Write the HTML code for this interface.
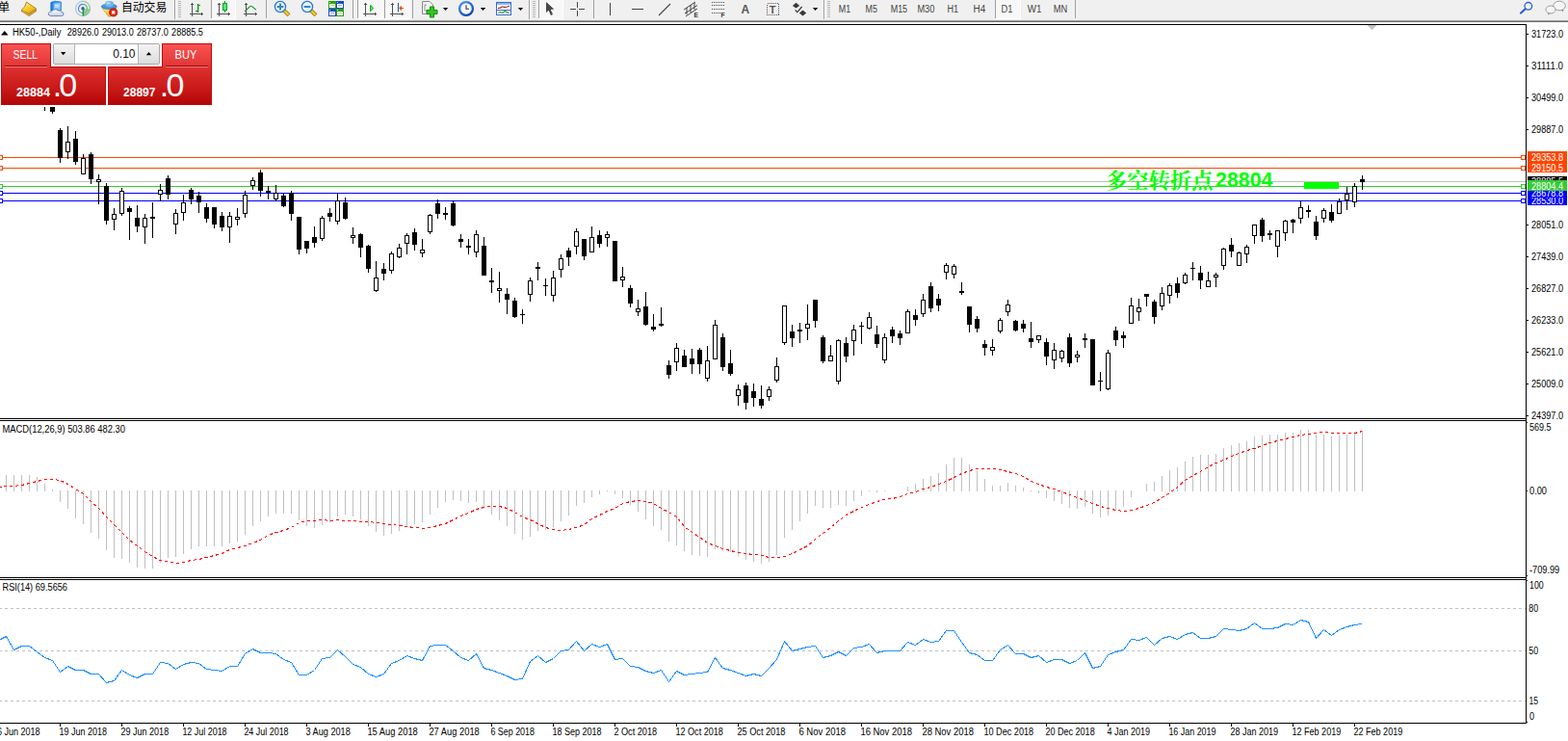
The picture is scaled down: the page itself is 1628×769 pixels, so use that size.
<!DOCTYPE html>
<html><head><meta charset="utf-8"><title>HK50 Daily</title>
<style>html,body{margin:0;padding:0;background:#fff;overflow:hidden}body{width:1628px;height:769px;font-family:"Liberation Sans",sans-serif}svg{display:block}text{font-family:"Liberation Sans",sans-serif}</style>
</head><body>
<svg width="1628" height="769" viewBox="0 0 1628 769">
<rect x="0" y="0" width="1628" height="769" fill="#fff" /><g shape-rendering="crispEdges"><rect x="0" y="163" width="1584" height="1" fill="#ff4500" /><rect x="0" y="174" width="1584" height="1" fill="#ff4500" /><rect x="0" y="188" width="1584" height="1" fill="#c0c0c0" /><rect x="0" y="193" width="1584" height="1" fill="#32cd32" /><rect x="0" y="200" width="1584" height="1" fill="#0000ff" /><rect x="0" y="208" width="1584" height="1" fill="#0000ff" /><rect x="1354" y="189" width="36" height="7" fill="#00ff00" /></g><text x="1148" y="194.5" font-size="21.6" fill="#00ff00" text-anchor="start" font-weight="bold" style="font-family:'Liberation Serif','Noto Serif CJK SC',serif" textLength="111.5" lengthAdjust="spacingAndGlyphs">多空转折点</text><text x="1262" y="194" font-size="21.33" fill="#00ff00" text-anchor="start" font-weight="bold" textLength="59.5" lengthAdjust="spacingAndGlyphs" >28804</text><g shape-rendering="crispEdges"><rect x="46" y="100" width="1" height="15" fill="#000" /><rect x="44" y="100" width="5" height="5" fill="#000" /><rect x="54" y="95" width="1" height="23" fill="#000" /><rect x="52" y="98" width="5" height="18" fill="#000" /><rect x="62" y="133" width="1" height="36" fill="#000" /><rect x="60" y="135" width="5" height="29" fill="#000" /><rect x="70" y="131" width="1" height="34" fill="#000" /><rect x="68" y="147" width="5" height="11" fill="#000" /><rect x="69" y="148" width="3" height="9" fill="#fff" /><rect x="78" y="136" width="1" height="35" fill="#000" /><rect x="76" y="144" width="5" height="24" fill="#000" /><rect x="86" y="160" width="1" height="21" fill="#000" /><rect x="84" y="164" width="5" height="17" fill="#000" /><rect x="85" y="165" width="3" height="15" fill="#fff" /><rect x="94" y="158" width="1" height="33" fill="#000" /><rect x="92" y="160" width="5" height="26" fill="#000" /><rect x="102" y="181" width="1" height="31" fill="#000" /><rect x="100" y="186" width="5" height="3" fill="#000" /><rect x="101" y="187" width="3" height="1" fill="#fff" /><rect x="110" y="190" width="1" height="43" fill="#000" /><rect x="108" y="193" width="5" height="36" fill="#000" /><rect x="118" y="216" width="1" height="23" fill="#000" /><rect x="116" y="222" width="5" height="6" fill="#000" /><rect x="117" y="223" width="3" height="4" fill="#fff" /><rect x="126" y="195" width="1" height="29" fill="#000" /><rect x="124" y="198" width="5" height="24" fill="#000" /><rect x="125" y="199" width="3" height="22" fill="#fff" /><rect x="134" y="214" width="1" height="35" fill="#000" /><rect x="132" y="216" width="5" height="4" fill="#000" /><rect x="142" y="213" width="1" height="28" fill="#000" /><rect x="140" y="226" width="5" height="9" fill="#000" /><rect x="150" y="222" width="1" height="31" fill="#000" /><rect x="148" y="226" width="5" height="10" fill="#000" /><rect x="149" y="227" width="3" height="8" fill="#fff" /><rect x="158" y="210" width="1" height="37" fill="#000" /><rect x="156" y="225" width="5" height="2" fill="#000" /><rect x="166" y="191" width="1" height="18" fill="#000" /><rect x="164" y="197" width="5" height="5" fill="#000" /><rect x="165" y="198" width="3" height="3" fill="#fff" /><rect x="174" y="182" width="1" height="25" fill="#000" /><rect x="172" y="185" width="5" height="17" fill="#000" /><rect x="182" y="217" width="1" height="26" fill="#000" /><rect x="180" y="221" width="5" height="12" fill="#000" /><rect x="181" y="222" width="3" height="10" fill="#fff" /><rect x="190" y="202" width="1" height="27" fill="#000" /><rect x="188" y="210" width="5" height="11" fill="#000" /><rect x="189" y="211" width="3" height="9" fill="#fff" /><rect x="198" y="195" width="1" height="17" fill="#000" /><rect x="196" y="197" width="5" height="10" fill="#000" /><rect x="206" y="199" width="1" height="22" fill="#000" /><rect x="204" y="203" width="5" height="7" fill="#000" /><rect x="214" y="211" width="1" height="20" fill="#000" /><rect x="212" y="215" width="5" height="12" fill="#000" /><rect x="222" y="215" width="1" height="22" fill="#000" /><rect x="220" y="215" width="5" height="18" fill="#000" /><rect x="230" y="220" width="1" height="20" fill="#000" /><rect x="228" y="224" width="5" height="12" fill="#000" /><rect x="238" y="220" width="1" height="32" fill="#000" /><rect x="236" y="224" width="5" height="12" fill="#000" /><rect x="237" y="225" width="3" height="10" fill="#fff" /><rect x="246" y="216" width="1" height="18" fill="#000" /><rect x="244" y="225" width="5" height="3" fill="#000" /><rect x="245" y="226" width="3" height="1" fill="#fff" /><rect x="254" y="198" width="1" height="28" fill="#000" /><rect x="252" y="202" width="5" height="20" fill="#000" /><rect x="253" y="203" width="3" height="18" fill="#fff" /><rect x="262" y="184" width="1" height="13" fill="#000" /><rect x="260" y="187" width="5" height="6" fill="#000" /><rect x="261" y="188" width="3" height="4" fill="#fff" /><rect x="270" y="176" width="1" height="28" fill="#000" /><rect x="268" y="179" width="5" height="19" fill="#000" /><rect x="278" y="193" width="1" height="14" fill="#000" /><rect x="276" y="198" width="5" height="2" fill="#000" /><rect x="286" y="192" width="1" height="17" fill="#000" /><rect x="284" y="200" width="5" height="7" fill="#000" /><rect x="285" y="201" width="3" height="5" fill="#fff" /><rect x="294" y="201" width="1" height="14" fill="#000" /><rect x="292" y="203" width="5" height="11" fill="#000" /><rect x="302" y="198" width="1" height="31" fill="#000" /><rect x="300" y="200" width="5" height="22" fill="#000" /><rect x="310" y="225" width="1" height="39" fill="#000" /><rect x="308" y="225" width="5" height="34" fill="#000" /><rect x="318" y="250" width="1" height="13" fill="#000" /><rect x="316" y="250" width="5" height="8" fill="#000" /><rect x="326" y="235" width="1" height="22" fill="#000" /><rect x="324" y="246" width="5" height="6" fill="#000" /><rect x="334" y="224" width="1" height="26" fill="#000" /><rect x="332" y="226" width="5" height="22" fill="#000" /><rect x="333" y="227" width="3" height="20" fill="#fff" /><rect x="342" y="216" width="1" height="14" fill="#000" /><rect x="340" y="221" width="5" height="4" fill="#000" /><rect x="350" y="201" width="1" height="32" fill="#000" /><rect x="348" y="208" width="5" height="22" fill="#000" /><rect x="349" y="209" width="3" height="20" fill="#fff" /><rect x="358" y="205" width="1" height="23" fill="#000" /><rect x="356" y="210" width="5" height="17" fill="#000" /><rect x="366" y="236" width="1" height="17" fill="#000" /><rect x="364" y="244" width="5" height="3" fill="#000" /><rect x="365" y="245" width="3" height="1" fill="#fff" /><rect x="374" y="242" width="1" height="25" fill="#000" /><rect x="372" y="243" width="5" height="14" fill="#000" /><rect x="382" y="254" width="1" height="29" fill="#000" /><rect x="380" y="255" width="5" height="24" fill="#000" /><rect x="390" y="271" width="1" height="32" fill="#000" /><rect x="388" y="288" width="5" height="14" fill="#000" /><rect x="389" y="289" width="3" height="12" fill="#fff" /><rect x="398" y="273" width="1" height="18" fill="#000" /><rect x="396" y="279" width="5" height="5" fill="#000" /><rect x="406" y="261" width="1" height="23" fill="#000" /><rect x="404" y="263" width="5" height="18" fill="#000" /><rect x="405" y="264" width="3" height="16" fill="#fff" /><rect x="414" y="253" width="1" height="15" fill="#000" /><rect x="412" y="257" width="5" height="10" fill="#000" /><rect x="413" y="258" width="3" height="8" fill="#fff" /><rect x="422" y="242" width="1" height="22" fill="#000" /><rect x="420" y="244" width="5" height="9" fill="#000" /><rect x="421" y="245" width="3" height="7" fill="#fff" /><rect x="430" y="237" width="1" height="23" fill="#000" /><rect x="428" y="241" width="5" height="13" fill="#000" /><rect x="438" y="248" width="1" height="19" fill="#000" /><rect x="436" y="259" width="5" height="4" fill="#000" /><rect x="437" y="260" width="3" height="2" fill="#fff" /><rect x="446" y="222" width="1" height="21" fill="#000" /><rect x="444" y="223" width="5" height="18" fill="#000" /><rect x="445" y="224" width="3" height="16" fill="#fff" /><rect x="454" y="207" width="1" height="20" fill="#000" /><rect x="452" y="211" width="5" height="11" fill="#000" /><rect x="462" y="215" width="1" height="13" fill="#000" /><rect x="460" y="221" width="5" height="2" fill="#000" /><rect x="470" y="208" width="1" height="27" fill="#000" /><rect x="468" y="211" width="5" height="23" fill="#000" /><rect x="478" y="243" width="1" height="14" fill="#000" /><rect x="476" y="248" width="5" height="3" fill="#000" /><rect x="486" y="248" width="1" height="16" fill="#000" /><rect x="484" y="255" width="5" height="2" fill="#000" /><rect x="494" y="239" width="1" height="28" fill="#000" /><rect x="492" y="243" width="5" height="19" fill="#000" /><rect x="493" y="244" width="3" height="17" fill="#fff" /><rect x="502" y="246" width="1" height="40" fill="#000" /><rect x="500" y="255" width="5" height="31" fill="#000" /><rect x="510" y="278" width="1" height="26" fill="#000" /><rect x="508" y="291" width="5" height="2" fill="#000" /><rect x="518" y="282" width="1" height="32" fill="#000" /><rect x="516" y="299" width="5" height="3" fill="#000" /><rect x="517" y="300" width="3" height="1" fill="#fff" /><rect x="526" y="299" width="1" height="27" fill="#000" /><rect x="524" y="305" width="5" height="6" fill="#000" /><rect x="534" y="309" width="1" height="21" fill="#000" /><rect x="532" y="312" width="5" height="17" fill="#000" /><rect x="542" y="321" width="1" height="15" fill="#000" /><rect x="540" y="326" width="5" height="1" fill="#000" /><rect x="550" y="288" width="1" height="25" fill="#000" /><rect x="548" y="291" width="5" height="15" fill="#000" /><rect x="549" y="292" width="3" height="13" fill="#fff" /><rect x="558" y="272" width="1" height="19" fill="#000" /><rect x="556" y="277" width="5" height="2" fill="#000" /><rect x="566" y="289" width="1" height="18" fill="#000" /><rect x="564" y="296" width="5" height="1" fill="#000" /><rect x="574" y="281" width="1" height="32" fill="#000" /><rect x="572" y="288" width="5" height="19" fill="#000" /><rect x="573" y="289" width="3" height="17" fill="#fff" /><rect x="582" y="264" width="1" height="24" fill="#000" /><rect x="580" y="268" width="5" height="12" fill="#000" /><rect x="581" y="269" width="3" height="10" fill="#fff" /><rect x="590" y="257" width="1" height="19" fill="#000" /><rect x="588" y="260" width="5" height="7" fill="#000" /><rect x="598" y="237" width="1" height="27" fill="#000" /><rect x="596" y="240" width="5" height="16" fill="#000" /><rect x="597" y="241" width="3" height="14" fill="#fff" /><rect x="606" y="248" width="1" height="22" fill="#000" /><rect x="604" y="248" width="5" height="18" fill="#000" /><rect x="614" y="235" width="1" height="27" fill="#000" /><rect x="612" y="246" width="5" height="16" fill="#000" /><rect x="613" y="247" width="3" height="14" fill="#fff" /><rect x="622" y="239" width="1" height="18" fill="#000" /><rect x="620" y="244" width="5" height="9" fill="#000" /><rect x="630" y="240" width="1" height="16" fill="#000" /><rect x="628" y="243" width="5" height="4" fill="#000" /><rect x="629" y="244" width="3" height="2" fill="#fff" /><rect x="638" y="250" width="1" height="42" fill="#000" /><rect x="636" y="250" width="5" height="42" fill="#000" /><rect x="646" y="277" width="1" height="21" fill="#000" /><rect x="644" y="287" width="5" height="4" fill="#000" /><rect x="645" y="288" width="3" height="2" fill="#fff" /><rect x="654" y="296" width="1" height="23" fill="#000" /><rect x="652" y="299" width="5" height="16" fill="#000" /><rect x="662" y="311" width="1" height="17" fill="#000" /><rect x="660" y="320" width="5" height="4" fill="#000" /><rect x="661" y="321" width="3" height="2" fill="#fff" /><rect x="670" y="303" width="1" height="35" fill="#000" /><rect x="668" y="318" width="5" height="19" fill="#000" /><rect x="678" y="326" width="1" height="18" fill="#000" /><rect x="676" y="339" width="5" height="3" fill="#000" /><rect x="686" y="319" width="1" height="20" fill="#000" /><rect x="684" y="336" width="5" height="2" fill="#000" /><rect x="694" y="374" width="1" height="19" fill="#000" /><rect x="692" y="379" width="5" height="10" fill="#000" /><rect x="702" y="356" width="1" height="29" fill="#000" /><rect x="700" y="361" width="5" height="15" fill="#000" /><rect x="701" y="362" width="3" height="13" fill="#fff" /><rect x="710" y="363" width="1" height="18" fill="#000" /><rect x="708" y="369" width="5" height="12" fill="#000" /><rect x="718" y="362" width="1" height="26" fill="#000" /><rect x="716" y="372" width="5" height="6" fill="#000" /><rect x="726" y="361" width="1" height="27" fill="#000" /><rect x="724" y="363" width="5" height="15" fill="#000" /><rect x="734" y="359" width="1" height="37" fill="#000" /><rect x="732" y="374" width="5" height="19" fill="#000" /><rect x="733" y="375" width="3" height="17" fill="#fff" /><rect x="742" y="332" width="1" height="41" fill="#000" /><rect x="740" y="337" width="5" height="36" fill="#000" /><rect x="741" y="338" width="3" height="34" fill="#fff" /><rect x="750" y="346" width="1" height="39" fill="#000" /><rect x="748" y="350" width="5" height="31" fill="#000" /><rect x="758" y="363" width="1" height="27" fill="#000" /><rect x="756" y="377" width="5" height="11" fill="#000" /><rect x="766" y="399" width="1" height="22" fill="#000" /><rect x="764" y="404" width="5" height="7" fill="#000" /><rect x="765" y="405" width="3" height="5" fill="#fff" /><rect x="774" y="397" width="1" height="28" fill="#000" /><rect x="772" y="400" width="5" height="18" fill="#000" /><rect x="782" y="398" width="1" height="24" fill="#000" /><rect x="780" y="406" width="5" height="7" fill="#000" /><rect x="790" y="400" width="1" height="24" fill="#000" /><rect x="788" y="414" width="5" height="7" fill="#000" /><rect x="798" y="401" width="1" height="15" fill="#000" /><rect x="796" y="404" width="5" height="8" fill="#000" /><rect x="797" y="405" width="3" height="6" fill="#fff" /><rect x="806" y="371" width="1" height="26" fill="#000" /><rect x="804" y="380" width="5" height="15" fill="#000" /><rect x="805" y="381" width="3" height="13" fill="#fff" /><rect x="814" y="317" width="1" height="41" fill="#000" /><rect x="812" y="317" width="5" height="39" fill="#000" /><rect x="813" y="318" width="3" height="37" fill="#fff" /><rect x="822" y="337" width="1" height="23" fill="#000" /><rect x="820" y="344" width="5" height="7" fill="#000" /><rect x="830" y="335" width="1" height="21" fill="#000" /><rect x="828" y="342" width="5" height="2" fill="#000" /><rect x="838" y="316" width="1" height="37" fill="#000" /><rect x="836" y="336" width="5" height="5" fill="#000" /><rect x="837" y="337" width="3" height="3" fill="#fff" /><rect x="846" y="311" width="1" height="29" fill="#000" /><rect x="844" y="311" width="5" height="22" fill="#000" /><rect x="854" y="348" width="1" height="29" fill="#000" /><rect x="852" y="350" width="5" height="25" fill="#000" /><rect x="862" y="358" width="1" height="17" fill="#000" /><rect x="860" y="369" width="5" height="6" fill="#000" /><rect x="861" y="370" width="3" height="4" fill="#fff" /><rect x="870" y="352" width="1" height="47" fill="#000" /><rect x="868" y="353" width="5" height="43" fill="#000" /><rect x="869" y="354" width="3" height="41" fill="#fff" /><rect x="878" y="350" width="1" height="26" fill="#000" /><rect x="876" y="356" width="5" height="14" fill="#000" /><rect x="886" y="337" width="1" height="32" fill="#000" /><rect x="884" y="342" width="5" height="12" fill="#000" /><rect x="885" y="343" width="3" height="10" fill="#fff" /><rect x="894" y="334" width="1" height="23" fill="#000" /><rect x="892" y="338" width="5" height="1" fill="#000" /><rect x="902" y="324" width="1" height="18" fill="#000" /><rect x="900" y="329" width="5" height="12" fill="#000" /><rect x="901" y="330" width="3" height="10" fill="#fff" /><rect x="910" y="338" width="1" height="23" fill="#000" /><rect x="908" y="347" width="5" height="10" fill="#000" /><rect x="918" y="346" width="1" height="31" fill="#000" /><rect x="916" y="350" width="5" height="24" fill="#000" /><rect x="917" y="351" width="3" height="22" fill="#fff" /><rect x="926" y="339" width="1" height="17" fill="#000" /><rect x="924" y="342" width="5" height="7" fill="#000" /><rect x="934" y="343" width="1" height="15" fill="#000" /><rect x="932" y="346" width="5" height="5" fill="#000" /><rect x="942" y="321" width="1" height="25" fill="#000" /><rect x="940" y="323" width="5" height="23" fill="#000" /><rect x="941" y="324" width="3" height="21" fill="#fff" /><rect x="950" y="321" width="1" height="17" fill="#000" /><rect x="948" y="327" width="5" height="5" fill="#000" /><rect x="958" y="305" width="1" height="24" fill="#000" /><rect x="956" y="311" width="5" height="15" fill="#000" /><rect x="957" y="312" width="3" height="13" fill="#fff" /><rect x="966" y="293" width="1" height="31" fill="#000" /><rect x="964" y="297" width="5" height="23" fill="#000" /><rect x="974" y="305" width="1" height="18" fill="#000" /><rect x="972" y="310" width="5" height="7" fill="#000" /><rect x="982" y="273" width="1" height="17" fill="#000" /><rect x="980" y="275" width="5" height="8" fill="#000" /><rect x="981" y="276" width="3" height="6" fill="#fff" /><rect x="990" y="274" width="1" height="15" fill="#000" /><rect x="988" y="276" width="5" height="9" fill="#000" /><rect x="989" y="277" width="3" height="7" fill="#fff" /><rect x="998" y="293" width="1" height="13" fill="#000" /><rect x="996" y="302" width="5" height="2" fill="#000" /><rect x="1006" y="318" width="1" height="27" fill="#000" /><rect x="1004" y="318" width="5" height="19" fill="#000" /><rect x="1014" y="328" width="1" height="17" fill="#000" /><rect x="1012" y="331" width="5" height="10" fill="#000" /><rect x="1022" y="353" width="1" height="16" fill="#000" /><rect x="1020" y="357" width="5" height="4" fill="#000" /><rect x="1030" y="352" width="1" height="17" fill="#000" /><rect x="1028" y="360" width="5" height="4" fill="#000" /><rect x="1029" y="361" width="3" height="2" fill="#fff" /><rect x="1038" y="330" width="1" height="16" fill="#000" /><rect x="1036" y="332" width="5" height="12" fill="#000" /><rect x="1037" y="333" width="3" height="10" fill="#fff" /><rect x="1046" y="311" width="1" height="17" fill="#000" /><rect x="1044" y="316" width="5" height="8" fill="#000" /><rect x="1045" y="317" width="3" height="6" fill="#fff" /><rect x="1054" y="332" width="1" height="12" fill="#000" /><rect x="1052" y="333" width="5" height="10" fill="#000" /><rect x="1062" y="332" width="1" height="13" fill="#000" /><rect x="1060" y="336" width="5" height="5" fill="#000" /><rect x="1070" y="334" width="1" height="27" fill="#000" /><rect x="1068" y="351" width="5" height="4" fill="#000" /><rect x="1078" y="348" width="1" height="8" fill="#000" /><rect x="1076" y="348" width="5" height="5" fill="#000" /><rect x="1077" y="349" width="3" height="3" fill="#fff" /><rect x="1086" y="351" width="1" height="28" fill="#000" /><rect x="1084" y="355" width="5" height="15" fill="#000" /><rect x="1094" y="356" width="1" height="27" fill="#000" /><rect x="1092" y="363" width="5" height="11" fill="#000" /><rect x="1093" y="364" width="3" height="9" fill="#fff" /><rect x="1102" y="363" width="1" height="13" fill="#000" /><rect x="1100" y="364" width="5" height="8" fill="#000" /><rect x="1101" y="365" width="3" height="6" fill="#fff" /><rect x="1110" y="346" width="1" height="35" fill="#000" /><rect x="1108" y="350" width="5" height="27" fill="#000" /><rect x="1118" y="364" width="1" height="12" fill="#000" /><rect x="1116" y="368" width="5" height="3" fill="#000" /><rect x="1117" y="369" width="3" height="1" fill="#fff" /><rect x="1126" y="346" width="1" height="15" fill="#000" /><rect x="1124" y="351" width="5" height="2" fill="#000" /><rect x="1134" y="352" width="1" height="48" fill="#000" /><rect x="1132" y="352" width="5" height="48" fill="#000" /><rect x="1142" y="386" width="1" height="20" fill="#000" /><rect x="1140" y="395" width="5" height="1" fill="#000" /><rect x="1150" y="363" width="1" height="42" fill="#000" /><rect x="1148" y="366" width="5" height="38" fill="#000" /><rect x="1149" y="367" width="3" height="36" fill="#fff" /><rect x="1158" y="339" width="1" height="20" fill="#000" /><rect x="1156" y="343" width="5" height="10" fill="#000" /><rect x="1166" y="344" width="1" height="17" fill="#000" /><rect x="1164" y="348" width="5" height="3" fill="#000" /><rect x="1174" y="309" width="1" height="27" fill="#000" /><rect x="1172" y="317" width="5" height="19" fill="#000" /><rect x="1173" y="318" width="3" height="17" fill="#fff" /><rect x="1182" y="310" width="1" height="23" fill="#000" /><rect x="1180" y="319" width="5" height="5" fill="#000" /><rect x="1181" y="320" width="3" height="3" fill="#fff" /><rect x="1190" y="305" width="1" height="13" fill="#000" /><rect x="1188" y="305" width="5" height="3" fill="#000" /><rect x="1198" y="311" width="1" height="25" fill="#000" /><rect x="1196" y="313" width="5" height="16" fill="#000" /><rect x="1206" y="298" width="1" height="24" fill="#000" /><rect x="1204" y="304" width="5" height="14" fill="#000" /><rect x="1205" y="305" width="3" height="12" fill="#fff" /><rect x="1214" y="294" width="1" height="21" fill="#000" /><rect x="1212" y="296" width="5" height="11" fill="#000" /><rect x="1213" y="297" width="3" height="9" fill="#fff" /><rect x="1222" y="288" width="1" height="21" fill="#000" /><rect x="1220" y="294" width="5" height="10" fill="#000" /><rect x="1230" y="283" width="1" height="12" fill="#000" /><rect x="1228" y="285" width="5" height="9" fill="#000" /><rect x="1229" y="286" width="3" height="7" fill="#fff" /><rect x="1238" y="272" width="1" height="19" fill="#000" /><rect x="1236" y="278" width="5" height="1" fill="#000" /><rect x="1246" y="276" width="1" height="24" fill="#000" /><rect x="1244" y="283" width="5" height="8" fill="#000" /><rect x="1254" y="282" width="1" height="16" fill="#000" /><rect x="1252" y="291" width="5" height="7" fill="#000" /><rect x="1253" y="292" width="3" height="5" fill="#fff" /><rect x="1262" y="283" width="1" height="15" fill="#000" /><rect x="1260" y="285" width="5" height="3" fill="#000" /><rect x="1261" y="286" width="3" height="1" fill="#fff" /><rect x="1270" y="257" width="1" height="23" fill="#000" /><rect x="1268" y="258" width="5" height="18" fill="#000" /><rect x="1269" y="259" width="3" height="16" fill="#fff" /><rect x="1278" y="247" width="1" height="20" fill="#000" /><rect x="1276" y="254" width="5" height="7" fill="#000" /><rect x="1286" y="261" width="1" height="15" fill="#000" /><rect x="1284" y="262" width="5" height="14" fill="#000" /><rect x="1285" y="263" width="3" height="12" fill="#fff" /><rect x="1294" y="254" width="1" height="19" fill="#000" /><rect x="1292" y="256" width="5" height="8" fill="#000" /><rect x="1293" y="257" width="3" height="6" fill="#fff" /><rect x="1302" y="233" width="1" height="20" fill="#000" /><rect x="1300" y="233" width="5" height="12" fill="#000" /><rect x="1301" y="234" width="3" height="10" fill="#fff" /><rect x="1310" y="226" width="1" height="25" fill="#000" /><rect x="1308" y="228" width="5" height="17" fill="#000" /><rect x="1318" y="239" width="1" height="10" fill="#000" /><rect x="1316" y="242" width="5" height="2" fill="#000" /><rect x="1326" y="239" width="1" height="28" fill="#000" /><rect x="1324" y="239" width="5" height="17" fill="#000" /><rect x="1325" y="240" width="3" height="15" fill="#fff" /><rect x="1334" y="228" width="1" height="22" fill="#000" /><rect x="1332" y="229" width="5" height="13" fill="#000" /><rect x="1333" y="230" width="3" height="11" fill="#fff" /><rect x="1342" y="227" width="1" height="15" fill="#000" /><rect x="1340" y="228" width="5" height="3" fill="#000" /><rect x="1350" y="208" width="1" height="24" fill="#000" /><rect x="1348" y="215" width="5" height="12" fill="#000" /><rect x="1349" y="216" width="3" height="10" fill="#fff" /><rect x="1358" y="213" width="1" height="13" fill="#000" /><rect x="1356" y="218" width="5" height="2" fill="#000" /><rect x="1366" y="224" width="1" height="25" fill="#000" /><rect x="1364" y="230" width="5" height="15" fill="#000" /><rect x="1374" y="216" width="1" height="15" fill="#000" /><rect x="1372" y="218" width="5" height="9" fill="#000" /><rect x="1373" y="219" width="3" height="7" fill="#fff" /><rect x="1382" y="212" width="1" height="19" fill="#000" /><rect x="1380" y="220" width="5" height="9" fill="#000" /><rect x="1390" y="206" width="1" height="16" fill="#000" /><rect x="1388" y="209" width="5" height="13" fill="#000" /><rect x="1389" y="210" width="3" height="11" fill="#fff" /><rect x="1398" y="194" width="1" height="24" fill="#000" /><rect x="1396" y="201" width="5" height="7" fill="#000" /><rect x="1397" y="202" width="3" height="5" fill="#fff" /><rect x="1406" y="190" width="1" height="25" fill="#000" /><rect x="1404" y="193" width="5" height="17" fill="#000" /><rect x="1405" y="194" width="3" height="15" fill="#fff" /><rect x="1414" y="182" width="1" height="15" fill="#000" /><rect x="1412" y="186" width="5" height="3" fill="#000" /><rect x="1579" y="161" width="5" height="5" fill="#ff4500" /><rect x="1580" y="162" width="3" height="3" fill="#fff" /><rect x="-2" y="161" width="5" height="5" fill="#ff4500" /><rect x="-1" y="162" width="3" height="3" fill="#fff" /><rect x="1579" y="172" width="5" height="5" fill="#ff4500" /><rect x="1580" y="173" width="3" height="3" fill="#fff" /><rect x="-2" y="172" width="5" height="5" fill="#ff4500" /><rect x="-1" y="173" width="3" height="3" fill="#fff" /><rect x="1579" y="191" width="5" height="5" fill="#32cd32" /><rect x="1580" y="192" width="3" height="3" fill="#fff" /><rect x="-2" y="191" width="5" height="5" fill="#32cd32" /><rect x="-1" y="192" width="3" height="3" fill="#fff" /><rect x="1579" y="198" width="5" height="5" fill="#0000ff" /><rect x="1580" y="199" width="3" height="3" fill="#fff" /><rect x="-2" y="198" width="5" height="5" fill="#0000ff" /><rect x="-1" y="199" width="3" height="3" fill="#fff" /><rect x="1579" y="206" width="5" height="5" fill="#0000ff" /><rect x="1580" y="207" width="3" height="3" fill="#fff" /><rect x="-2" y="206" width="5" height="5" fill="#0000ff" /><rect x="-1" y="207" width="3" height="3" fill="#fff" /><rect x="6" y="493" width="1" height="17" fill="#c0c0c0" /><rect x="14" y="493" width="1" height="17" fill="#c0c0c0" /><rect x="22" y="493" width="1" height="17" fill="#c0c0c0" /><rect x="30" y="493" width="1" height="17" fill="#c0c0c0" /><rect x="38" y="495" width="1" height="15" fill="#c0c0c0" /><rect x="46" y="502" width="1" height="8" fill="#c0c0c0" /><rect x="54" y="508" width="1" height="2" fill="#c0c0c0" /><rect x="62" y="509" width="1" height="12" fill="#c0c0c0" /><rect x="70" y="509" width="1" height="19" fill="#c0c0c0" /><rect x="78" y="509" width="1" height="29" fill="#c0c0c0" /><rect x="86" y="509" width="1" height="35" fill="#c0c0c0" /><rect x="94" y="509" width="1" height="44" fill="#c0c0c0" /><rect x="102" y="509" width="1" height="50" fill="#c0c0c0" /><rect x="110" y="509" width="1" height="62" fill="#c0c0c0" /><rect x="118" y="509" width="1" height="70" fill="#c0c0c0" /><rect x="126" y="509" width="1" height="71" fill="#c0c0c0" /><rect x="134" y="509" width="1" height="75" fill="#c0c0c0" /><rect x="142" y="509" width="1" height="80" fill="#c0c0c0" /><rect x="150" y="509" width="1" height="81" fill="#c0c0c0" /><rect x="158" y="509" width="1" height="81" fill="#c0c0c0" /><rect x="166" y="509" width="1" height="75" fill="#c0c0c0" /><rect x="174" y="509" width="1" height="70" fill="#c0c0c0" /><rect x="182" y="509" width="1" height="69" fill="#c0c0c0" /><rect x="190" y="509" width="1" height="66" fill="#c0c0c0" /><rect x="198" y="509" width="1" height="61" fill="#c0c0c0" /><rect x="206" y="509" width="1" height="58" fill="#c0c0c0" /><rect x="214" y="509" width="1" height="58" fill="#c0c0c0" /><rect x="222" y="509" width="1" height="58" fill="#c0c0c0" /><rect x="230" y="509" width="1" height="58" fill="#c0c0c0" /><rect x="238" y="509" width="1" height="55" fill="#c0c0c0" /><rect x="246" y="509" width="1" height="53" fill="#c0c0c0" /><rect x="254" y="509" width="1" height="46" fill="#c0c0c0" /><rect x="262" y="509" width="1" height="37" fill="#c0c0c0" /><rect x="270" y="509" width="1" height="32" fill="#c0c0c0" /><rect x="278" y="509" width="1" height="27" fill="#c0c0c0" /><rect x="286" y="509" width="1" height="24" fill="#c0c0c0" /><rect x="294" y="509" width="1" height="24" fill="#c0c0c0" /><rect x="302" y="509" width="1" height="24" fill="#c0c0c0" /><rect x="310" y="509" width="1" height="31" fill="#c0c0c0" /><rect x="318" y="509" width="1" height="37" fill="#c0c0c0" /><rect x="326" y="509" width="1" height="39" fill="#c0c0c0" /><rect x="334" y="509" width="1" height="36" fill="#c0c0c0" /><rect x="342" y="509" width="1" height="33" fill="#c0c0c0" /><rect x="350" y="509" width="1" height="27" fill="#c0c0c0" /><rect x="358" y="509" width="1" height="25" fill="#c0c0c0" /><rect x="366" y="509" width="1" height="27" fill="#c0c0c0" /><rect x="374" y="509" width="1" height="30" fill="#c0c0c0" /><rect x="382" y="509" width="1" height="37" fill="#c0c0c0" /><rect x="390" y="509" width="1" height="43" fill="#c0c0c0" /><rect x="398" y="509" width="1" height="47" fill="#c0c0c0" /><rect x="406" y="509" width="1" height="45" fill="#c0c0c0" /><rect x="414" y="509" width="1" height="42" fill="#c0c0c0" /><rect x="422" y="509" width="1" height="37" fill="#c0c0c0" /><rect x="430" y="509" width="1" height="35" fill="#c0c0c0" /><rect x="438" y="509" width="1" height="33" fill="#c0c0c0" /><rect x="446" y="509" width="1" height="25" fill="#c0c0c0" /><rect x="454" y="509" width="1" height="18" fill="#c0c0c0" /><rect x="462" y="509" width="1" height="12" fill="#c0c0c0" /><rect x="470" y="509" width="1" height="10" fill="#c0c0c0" /><rect x="478" y="509" width="1" height="11" fill="#c0c0c0" /><rect x="486" y="509" width="1" height="13" fill="#c0c0c0" /><rect x="494" y="509" width="1" height="12" fill="#c0c0c0" /><rect x="502" y="509" width="1" height="17" fill="#c0c0c0" /><rect x="510" y="509" width="1" height="25" fill="#c0c0c0" /><rect x="518" y="509" width="1" height="31" fill="#c0c0c0" /><rect x="526" y="509" width="1" height="37" fill="#c0c0c0" /><rect x="534" y="509" width="1" height="45" fill="#c0c0c0" /><rect x="542" y="509" width="1" height="51" fill="#c0c0c0" /><rect x="550" y="509" width="1" height="48" fill="#c0c0c0" /><rect x="558" y="509" width="1" height="42" fill="#c0c0c0" /><rect x="566" y="509" width="1" height="41" fill="#c0c0c0" /><rect x="574" y="509" width="1" height="38" fill="#c0c0c0" /><rect x="582" y="509" width="1" height="32" fill="#c0c0c0" /><rect x="590" y="509" width="1" height="26" fill="#c0c0c0" /><rect x="598" y="509" width="1" height="16" fill="#c0c0c0" /><rect x="606" y="509" width="1" height="13" fill="#c0c0c0" /><rect x="614" y="509" width="1" height="7" fill="#c0c0c0" /><rect x="622" y="509" width="1" height="4" fill="#c0c0c0" /><rect x="630" y="509" width="1" height="1" fill="#c0c0c0" /><rect x="638" y="509" width="1" height="4" fill="#c0c0c0" /><rect x="646" y="509" width="1" height="8" fill="#c0c0c0" /><rect x="654" y="509" width="1" height="15" fill="#c0c0c0" /><rect x="662" y="509" width="1" height="22" fill="#c0c0c0" /><rect x="670" y="509" width="1" height="30" fill="#c0c0c0" /><rect x="678" y="509" width="1" height="37" fill="#c0c0c0" /><rect x="686" y="509" width="1" height="41" fill="#c0c0c0" /><rect x="694" y="509" width="1" height="53" fill="#c0c0c0" /><rect x="702" y="509" width="1" height="57" fill="#c0c0c0" /><rect x="710" y="509" width="1" height="63" fill="#c0c0c0" /><rect x="718" y="509" width="1" height="67" fill="#c0c0c0" /><rect x="726" y="509" width="1" height="68" fill="#c0c0c0" /><rect x="734" y="509" width="1" height="69" fill="#c0c0c0" /><rect x="742" y="509" width="1" height="61" fill="#c0c0c0" /><rect x="750" y="509" width="1" height="63" fill="#c0c0c0" /><rect x="758" y="509" width="1" height="64" fill="#c0c0c0" /><rect x="766" y="509" width="1" height="68" fill="#c0c0c0" /><rect x="774" y="509" width="1" height="72" fill="#c0c0c0" /><rect x="782" y="509" width="1" height="74" fill="#c0c0c0" /><rect x="790" y="509" width="1" height="76" fill="#c0c0c0" /><rect x="798" y="509" width="1" height="74" fill="#c0c0c0" /><rect x="806" y="509" width="1" height="67" fill="#c0c0c0" /><rect x="814" y="509" width="1" height="49" fill="#c0c0c0" /><rect x="822" y="509" width="1" height="41" fill="#c0c0c0" /><rect x="830" y="509" width="1" height="32" fill="#c0c0c0" /><rect x="838" y="509" width="1" height="24" fill="#c0c0c0" /><rect x="846" y="509" width="1" height="16" fill="#c0c0c0" /><rect x="854" y="509" width="1" height="18" fill="#c0c0c0" /><rect x="862" y="509" width="1" height="18" fill="#c0c0c0" /><rect x="870" y="509" width="1" height="15" fill="#c0c0c0" /><rect x="878" y="509" width="1" height="16" fill="#c0c0c0" /><rect x="886" y="509" width="1" height="11" fill="#c0c0c0" /><rect x="894" y="509" width="1" height="6" fill="#c0c0c0" /><rect x="902" y="509" width="1" height="1" fill="#c0c0c0" /><rect x="910" y="509" width="1" height="2" fill="#c0c0c0" /><rect x="918" y="509" width="1" height="1" fill="#c0c0c0" /><rect x="942" y="505" width="1" height="5" fill="#c0c0c0" /><rect x="950" y="502" width="1" height="8" fill="#c0c0c0" /><rect x="958" y="497" width="1" height="13" fill="#c0c0c0" /><rect x="966" y="494" width="1" height="16" fill="#c0c0c0" /><rect x="974" y="491" width="1" height="19" fill="#c0c0c0" /><rect x="982" y="482" width="1" height="28" fill="#c0c0c0" /><rect x="990" y="475" width="1" height="35" fill="#c0c0c0" /><rect x="998" y="475" width="1" height="35" fill="#c0c0c0" /><rect x="1006" y="482" width="1" height="28" fill="#c0c0c0" /><rect x="1014" y="488" width="1" height="22" fill="#c0c0c0" /><rect x="1022" y="497" width="1" height="13" fill="#c0c0c0" /><rect x="1030" y="504" width="1" height="6" fill="#c0c0c0" /><rect x="1038" y="504" width="1" height="6" fill="#c0c0c0" /><rect x="1046" y="501" width="1" height="9" fill="#c0c0c0" /><rect x="1054" y="504" width="1" height="6" fill="#c0c0c0" /><rect x="1062" y="506" width="1" height="4" fill="#c0c0c0" /><rect x="1070" y="509" width="1" height="1" fill="#c0c0c0" /><rect x="1078" y="509" width="1" height="3" fill="#c0c0c0" /><rect x="1086" y="509" width="1" height="8" fill="#c0c0c0" /><rect x="1094" y="509" width="1" height="11" fill="#c0c0c0" /><rect x="1102" y="509" width="1" height="14" fill="#c0c0c0" /><rect x="1110" y="509" width="1" height="18" fill="#c0c0c0" /><rect x="1118" y="509" width="1" height="19" fill="#c0c0c0" /><rect x="1126" y="509" width="1" height="17" fill="#c0c0c0" /><rect x="1134" y="509" width="1" height="24" fill="#c0c0c0" /><rect x="1142" y="509" width="1" height="28" fill="#c0c0c0" /><rect x="1150" y="509" width="1" height="26" fill="#c0c0c0" /><rect x="1158" y="509" width="1" height="21" fill="#c0c0c0" /><rect x="1166" y="509" width="1" height="17" fill="#c0c0c0" /><rect x="1174" y="509" width="1" height="7" fill="#c0c0c0" /><rect x="1190" y="502" width="1" height="8" fill="#c0c0c0" /><rect x="1198" y="500" width="1" height="10" fill="#c0c0c0" /><rect x="1206" y="494" width="1" height="16" fill="#c0c0c0" /><rect x="1214" y="488" width="1" height="22" fill="#c0c0c0" /><rect x="1222" y="485" width="1" height="25" fill="#c0c0c0" /><rect x="1230" y="479" width="1" height="31" fill="#c0c0c0" /><rect x="1238" y="474" width="1" height="36" fill="#c0c0c0" /><rect x="1246" y="472" width="1" height="38" fill="#c0c0c0" /><rect x="1254" y="472" width="1" height="38" fill="#c0c0c0" /><rect x="1262" y="471" width="1" height="39" fill="#c0c0c0" /><rect x="1270" y="465" width="1" height="45" fill="#c0c0c0" /><rect x="1278" y="462" width="1" height="48" fill="#c0c0c0" /><rect x="1286" y="460" width="1" height="50" fill="#c0c0c0" /><rect x="1294" y="458" width="1" height="52" fill="#c0c0c0" /><rect x="1302" y="453" width="1" height="57" fill="#c0c0c0" /><rect x="1310" y="452" width="1" height="58" fill="#c0c0c0" /><rect x="1318" y="451" width="1" height="59" fill="#c0c0c0" /><rect x="1326" y="451" width="1" height="59" fill="#c0c0c0" /><rect x="1334" y="449" width="1" height="61" fill="#c0c0c0" /><rect x="1342" y="449" width="1" height="61" fill="#c0c0c0" /><rect x="1350" y="446" width="1" height="64" fill="#c0c0c0" /><rect x="1358" y="446" width="1" height="64" fill="#c0c0c0" /><rect x="1366" y="451" width="1" height="59" fill="#c0c0c0" /><rect x="1374" y="451" width="1" height="59" fill="#c0c0c0" /><rect x="1382" y="453" width="1" height="57" fill="#c0c0c0" /><rect x="1390" y="452" width="1" height="58" fill="#c0c0c0" /><rect x="1398" y="451" width="1" height="59" fill="#c0c0c0" /><rect x="1406" y="448" width="1" height="62" fill="#c0c0c0" /><rect x="1414" y="447" width="1" height="63" fill="#c0c0c0" /></g><polyline points="-1.5,505.5 6.5,504.5 14.5,504.5 22.5,503.5 30.5,501.5 38.5,499.5 46.5,497.5 54.5,497.5 62.5,498.5 70.5,502.5 78.5,507.5 86.5,512.5 94.5,520.5 102.5,527.5 110.5,536.5 118.5,544.5 126.5,552.5 134.5,560.5 142.5,566.5 150.5,572.5 158.5,577.5 166.5,581.5 174.5,582.5 182.5,584.5 190.5,583.5 198.5,581.5 206.5,580.5 214.5,578.5 222.5,576.5 230.5,574.5 238.5,570.5 246.5,568.5 254.5,566.5 262.5,563.5 270.5,560.5 278.5,555.5 286.5,552.5 294.5,550.5 302.5,547.5 310.5,542.5 318.5,540.5 326.5,540.5 334.5,539.5 342.5,540.5 350.5,539.5 358.5,540.5 366.5,540.5 374.5,541.5 382.5,541.5 390.5,542.5 398.5,543.5 406.5,544.5 414.5,545.5 422.5,546.5 430.5,547.5 438.5,548.5 446.5,547.5 454.5,545.5 462.5,543.5 470.5,539.5 478.5,535.5 486.5,532.5 494.5,528.5 502.5,526.5 510.5,525.5 518.5,525.5 526.5,527.5 534.5,531.5 542.5,536.5 550.5,539.5 558.5,543.5 566.5,547.5 574.5,549.5 582.5,550.5 590.5,549.5 598.5,547.5 606.5,544.5 614.5,538.5 622.5,534.5 630.5,530.5 638.5,527.5 646.5,522.5 654.5,520.5 662.5,519.5 670.5,520.5 678.5,522.5 686.5,527.5 694.5,531.5 702.5,536.5 710.5,546.5 718.5,552.5 726.5,557.5 734.5,563.5 742.5,566.5 750.5,569.5 758.5,571.5 766.5,573.5 774.5,574.5 782.5,575.5 790.5,576.5 798.5,578.5 806.5,578.5 814.5,577.5 822.5,574.5 830.5,570.5 838.5,566.5 846.5,559.5 854.5,553.5 862.5,547.5 870.5,540.5 878.5,534.5 886.5,530.5 894.5,526.5 902.5,523.5 910.5,520.5 918.5,518.5 926.5,517.5 934.5,515.5 942.5,512.5 950.5,510.5 958.5,507.5 966.5,505.5 974.5,502.5 982.5,499.5 990.5,495.5 998.5,491.5 1006.5,488.5 1014.5,486.5 1022.5,486.5 1030.5,486.5 1038.5,487.5 1046.5,489.5 1054.5,491.5 1062.5,494.5 1070.5,499.5 1078.5,502.5 1086.5,505.5 1094.5,507.5 1102.5,510.5 1110.5,513.5 1118.5,516.5 1126.5,519.5 1134.5,522.5 1142.5,525.5 1150.5,527.5 1158.5,529.5 1166.5,530.5 1174.5,529.5 1182.5,527.5 1190.5,524.5 1198.5,521.5 1206.5,516.5 1214.5,511.5 1222.5,505.5 1230.5,498.5 1238.5,493.5 1246.5,489.5 1254.5,484.5 1262.5,480.5 1270.5,477.5 1278.5,473.5 1286.5,470.5 1294.5,467.5 1302.5,465.5 1310.5,462.5 1318.5,459.5 1326.5,457.5 1334.5,455.5 1342.5,453.5 1350.5,451.5 1358.5,450.5 1366.5,449.5 1374.5,448.5 1382.5,449.5 1390.5,449.5 1398.5,449.5 1406.5,449.5 1414.5,447.5" fill="none" stroke="#ff0000" stroke-width="1" stroke-dasharray="3 3" shape-rendering="crispEdges"/><g shape-rendering="crispEdges"><line x1="-1" y1="631.5" x2="1584" y2="631.5" stroke="#c0c0c0" stroke-width="1" stroke-dasharray="3 3"/><line x1="-1" y1="675.5" x2="1584" y2="675.5" stroke="#c0c0c0" stroke-width="1" stroke-dasharray="3 3"/><line x1="-1" y1="727.5" x2="1584" y2="727.5" stroke="#c0c0c0" stroke-width="1" stroke-dasharray="3 3"/></g><polyline points="-1.5,664.5 6.5,660.5 14.5,674.5 22.5,670.5 30.5,670.5 38.5,676.5 46.5,682.5 54.5,685.5 62.5,697.5 70.5,691.5 78.5,695.5 86.5,695.5 94.5,699.5 102.5,699.5 110.5,708.5 118.5,706.5 126.5,695.5 134.5,700.5 142.5,703.5 150.5,699.5 158.5,699.5 166.5,687.5 174.5,688.5 182.5,694.5 190.5,689.5 198.5,687.5 206.5,688.5 214.5,694.5 222.5,695.5 230.5,696.5 238.5,691.5 246.5,691.5 254.5,678.5 262.5,673.5 270.5,677.5 278.5,677.5 286.5,678.5 294.5,684.5 302.5,687.5 310.5,700.5 318.5,700.5 326.5,695.5 334.5,683.5 342.5,682.5 350.5,674.5 358.5,681.5 366.5,689.5 374.5,692.5 382.5,699.5 390.5,702.5 398.5,699.5 406.5,688.5 414.5,685.5 422.5,680.5 430.5,683.5 438.5,685.5 446.5,670.5 454.5,669.5 462.5,669.5 470.5,675.5 478.5,682.5 486.5,685.5 494.5,678.5 502.5,693.5 510.5,695.5 518.5,698.5 526.5,701.5 534.5,705.5 542.5,704.5 550.5,686.5 558.5,680.5 566.5,687.5 574.5,683.5 582.5,675.5 590.5,674.5 598.5,665.5 606.5,675.5 614.5,668.5 622.5,671.5 630.5,668.5 638.5,684.5 646.5,683.5 654.5,691.5 662.5,692.5 670.5,696.5 678.5,698.5 686.5,695.5 694.5,707.5 702.5,696.5 710.5,700.5 718.5,699.5 726.5,698.5 734.5,697.5 742.5,682.5 750.5,693.5 758.5,695.5 766.5,698.5 774.5,701.5 782.5,699.5 790.5,701.5 798.5,693.5 806.5,684.5 814.5,665.5 822.5,675.5 830.5,673.5 838.5,671.5 846.5,670.5 854.5,682.5 862.5,680.5 870.5,676.5 878.5,680.5 886.5,672.5 894.5,671.5 902.5,668.5 910.5,677.5 918.5,675.5 926.5,675.5 934.5,675.5 942.5,666.5 950.5,669.5 958.5,663.5 966.5,666.5 974.5,665.5 982.5,654.5 990.5,654.5 998.5,666.5 1006.5,677.5 1014.5,679.5 1022.5,685.5 1030.5,685.5 1038.5,674.5 1046.5,669.5 1054.5,678.5 1062.5,678.5 1070.5,682.5 1078.5,680.5 1086.5,687.5 1094.5,684.5 1102.5,684.5 1110.5,688.5 1118.5,685.5 1126.5,677.5 1134.5,693.5 1142.5,691.5 1150.5,679.5 1158.5,676.5 1166.5,674.5 1174.5,663.5 1182.5,664.5 1190.5,661.5 1198.5,669.5 1206.5,662.5 1214.5,660.5 1222.5,663.5 1230.5,658.5 1238.5,656.5 1246.5,662.5 1254.5,662.5 1262.5,660.5 1270.5,652.5 1278.5,653.5 1286.5,654.5 1294.5,652.5 1302.5,646.5 1310.5,652.5 1318.5,652.5 1326.5,651.5 1334.5,647.5 1342.5,648.5 1350.5,643.5 1358.5,645.5 1366.5,662.5 1374.5,653.5 1382.5,659.5 1390.5,653.5 1398.5,650.5 1406.5,648.5 1414.5,647.5" fill="none" stroke="#1e90ff" stroke-width="1" shape-rendering="crispEdges"/><g shape-rendering="crispEdges"><rect x="0" y="25" width="1585" height="1" fill="#000" /><rect x="1584" y="25" width="1" height="726" fill="#000" /><rect x="0" y="434" width="1585" height="1" fill="#000" /><rect x="0" y="436" width="1585" height="1" fill="#000" /><rect x="0" y="599" width="1585" height="1" fill="#000" /><rect x="0" y="601" width="1585" height="1" fill="#000" /><rect x="0" y="750" width="1585" height="1" fill="#000" /><rect x="1585" y="435" width="43" height="1" fill="#fff" /><rect x="1585" y="600" width="43" height="1" fill="#fff" /><rect x="1585" y="35" width="2" height="1" fill="#000" /><rect x="1585" y="68" width="2" height="1" fill="#000" /><rect x="1585" y="101" width="2" height="1" fill="#000" /><rect x="1585" y="134" width="2" height="1" fill="#000" /><rect x="1585" y="233" width="2" height="1" fill="#000" /><rect x="1585" y="266" width="2" height="1" fill="#000" /><rect x="1585" y="299" width="2" height="1" fill="#000" /><rect x="1585" y="332" width="2" height="1" fill="#000" /><rect x="1585" y="365" width="2" height="1" fill="#000" /><rect x="1585" y="398" width="2" height="1" fill="#000" /><rect x="1585" y="431" width="2" height="1" fill="#000" /></g><g font-family="Liberation Sans, sans-serif"><text x="1590" y="39" font-size="10" fill="#000" text-anchor="start" font-weight="normal" textLength="33" lengthAdjust="spacingAndGlyphs" >31723.0</text><text x="1590" y="72" font-size="10" fill="#000" text-anchor="start" font-weight="normal" textLength="33" lengthAdjust="spacingAndGlyphs" >31111.0</text><text x="1590" y="105" font-size="10" fill="#000" text-anchor="start" font-weight="normal" textLength="33" lengthAdjust="spacingAndGlyphs" >30499.0</text><text x="1590" y="138" font-size="10" fill="#000" text-anchor="start" font-weight="normal" textLength="33" lengthAdjust="spacingAndGlyphs" >29887.0</text><text x="1590" y="237" font-size="10" fill="#000" text-anchor="start" font-weight="normal" textLength="33" lengthAdjust="spacingAndGlyphs" >28051.0</text><text x="1590" y="270" font-size="10" fill="#000" text-anchor="start" font-weight="normal" textLength="33" lengthAdjust="spacingAndGlyphs" >27439.0</text><text x="1590" y="303" font-size="10" fill="#000" text-anchor="start" font-weight="normal" textLength="33" lengthAdjust="spacingAndGlyphs" >26827.0</text><text x="1590" y="336" font-size="10" fill="#000" text-anchor="start" font-weight="normal" textLength="33" lengthAdjust="spacingAndGlyphs" >26233.0</text><text x="1590" y="369" font-size="10" fill="#000" text-anchor="start" font-weight="normal" textLength="33" lengthAdjust="spacingAndGlyphs" >25621.0</text><text x="1590" y="402" font-size="10" fill="#000" text-anchor="start" font-weight="normal" textLength="33" lengthAdjust="spacingAndGlyphs" >25009.0</text><text x="1590" y="435" font-size="10" fill="#000" text-anchor="start" font-weight="normal" textLength="33" lengthAdjust="spacingAndGlyphs" >24397.0</text><rect x="1586" y="157" width="41" height="11" fill="#ff4500" shape-rendering="crispEdges"/><text x="1590" y="166.6" font-size="10" fill="#fff" text-anchor="start" font-weight="normal" textLength="33" lengthAdjust="spacingAndGlyphs" >29353.8</text><rect x="1586" y="168" width="41" height="11" fill="#ff4500" shape-rendering="crispEdges"/><text x="1590" y="177.6" font-size="10" fill="#fff" text-anchor="start" font-weight="normal" textLength="33" lengthAdjust="spacingAndGlyphs" >29150.5</text><rect x="1586" y="183" width="41" height="11" fill="#000" shape-rendering="crispEdges"/><text x="1590" y="191.6" font-size="10" fill="#fff" text-anchor="start" font-weight="normal" textLength="33" lengthAdjust="spacingAndGlyphs" >28885.5</text><rect x="1586" y="202" width="41" height="11" fill="#0000ff" shape-rendering="crispEdges"/><text x="1590" y="211.6" font-size="10" fill="#fff" text-anchor="start" font-weight="normal" textLength="33" lengthAdjust="spacingAndGlyphs" >28530.0</text><rect x="1586" y="194" width="41" height="11" fill="#0000ff" shape-rendering="crispEdges"/><text x="1590" y="203.6" font-size="10" fill="#fff" text-anchor="start" font-weight="normal" textLength="33" lengthAdjust="spacingAndGlyphs" >28678.8</text><rect x="1586" y="187" width="41" height="11" fill="#32cd32" shape-rendering="crispEdges"/><text x="1590" y="196.6" font-size="10" fill="#fff" text-anchor="start" font-weight="normal" textLength="33" lengthAdjust="spacingAndGlyphs" >28804.4</text><g shape-rendering="crispEdges"><rect x="1585" y="438" width="1" height="1" fill="#000" /><rect x="1585" y="509" width="1" height="1" fill="#000" /><rect x="1585" y="597" width="1" height="1" fill="#000" /><rect x="1585" y="602" width="1" height="1" fill="#000" /><rect x="1585" y="749" width="1" height="1" fill="#000" /></g><text x="1588" y="447" font-size="10" fill="#000" text-anchor="start" font-weight="normal" textLength="22.6" lengthAdjust="spacingAndGlyphs" >569.5</text><text x="1588" y="513" font-size="10" fill="#000" text-anchor="start" font-weight="normal" textLength="18" lengthAdjust="spacingAndGlyphs" >0.00</text><text x="1588" y="595" font-size="10" fill="#000" text-anchor="start" font-weight="normal" textLength="31.2" lengthAdjust="spacingAndGlyphs" >-709.99</text><text x="1588" y="611" font-size="10" fill="#000" text-anchor="start" font-weight="normal" textLength="14.7" lengthAdjust="spacingAndGlyphs" >100</text><text x="1587.3" y="635" font-size="10" fill="#000" text-anchor="start" font-weight="normal" textLength="9.7" lengthAdjust="spacingAndGlyphs" >80</text><text x="1587.3" y="679" font-size="10" fill="#000" text-anchor="start" font-weight="normal" textLength="9.7" lengthAdjust="spacingAndGlyphs" >50</text><text x="1587.5" y="731" font-size="10" fill="#000" text-anchor="start" font-weight="normal" textLength="9.5" lengthAdjust="spacingAndGlyphs" >15</text><text x="1588" y="747" font-size="10" fill="#000" text-anchor="start" font-weight="normal" textLength="5.0" lengthAdjust="spacingAndGlyphs" >0</text><path d="M1 36.5 L8.5 36.5 L4.75 32 Z" fill="#000"/><text x="13" y="37" font-size="10" fill="#000" text-anchor="start" font-weight="normal" textLength="50.4" lengthAdjust="spacingAndGlyphs" >HK50-,Daily</text><text x="69.8" y="37" font-size="10" fill="#000" text-anchor="start" font-weight="normal" textLength="32.8" lengthAdjust="spacingAndGlyphs" >28926.0</text><text x="105.9" y="37" font-size="10" fill="#000" text-anchor="start" font-weight="normal" textLength="32.8" lengthAdjust="spacingAndGlyphs" >29013.0</text><text x="142.0" y="37" font-size="10" fill="#000" text-anchor="start" font-weight="normal" textLength="32.8" lengthAdjust="spacingAndGlyphs" >28737.0</text><text x="178.10000000000002" y="37" font-size="10" fill="#000" text-anchor="start" font-weight="normal" textLength="32.8" lengthAdjust="spacingAndGlyphs" >28885.5</text><text x="2.5" y="449" font-size="10" fill="#000" text-anchor="start" font-weight="normal" textLength="127.5" lengthAdjust="spacingAndGlyphs" >MACD(12,26,9) 503.86 482.30</text><text x="2.5" y="613" font-size="10" fill="#000" text-anchor="start" font-weight="normal" textLength="67.5" lengthAdjust="spacingAndGlyphs" >RSI(14) 69.5656</text><g shape-rendering="crispEdges"><rect x="-2" y="750" width="1" height="4" fill="#000" /><rect x="62" y="750" width="1" height="4" fill="#000" /><rect x="126" y="750" width="1" height="4" fill="#000" /><rect x="190" y="750" width="1" height="4" fill="#000" /><rect x="254" y="750" width="1" height="4" fill="#000" /><rect x="318" y="750" width="1" height="4" fill="#000" /><rect x="382" y="750" width="1" height="4" fill="#000" /><rect x="446" y="750" width="1" height="4" fill="#000" /><rect x="510" y="750" width="1" height="4" fill="#000" /><rect x="574" y="750" width="1" height="4" fill="#000" /><rect x="638" y="750" width="1" height="4" fill="#000" /><rect x="702" y="750" width="1" height="4" fill="#000" /><rect x="766" y="750" width="1" height="4" fill="#000" /><rect x="830" y="750" width="1" height="4" fill="#000" /><rect x="894" y="750" width="1" height="4" fill="#000" /><rect x="958" y="750" width="1" height="4" fill="#000" /><rect x="1022" y="750" width="1" height="4" fill="#000" /><rect x="1086" y="750" width="1" height="4" fill="#000" /><rect x="1150" y="750" width="1" height="4" fill="#000" /><rect x="1214" y="750" width="1" height="4" fill="#000" /><rect x="1278" y="750" width="1" height="4" fill="#000" /><rect x="1342" y="750" width="1" height="4" fill="#000" /><rect x="1406" y="750" width="1" height="4" fill="#000" /></g><text x="-8" y="763" font-size="10" fill="#000" text-anchor="start" font-weight="normal" textLength="49.6" lengthAdjust="spacingAndGlyphs" >16 Jun 2018</text><text x="61.4" y="763" font-size="10" fill="#000" text-anchor="start" font-weight="normal" textLength="49.5" lengthAdjust="spacingAndGlyphs" >19 Jun 2018</text><text x="125.4" y="763" font-size="10" fill="#000" text-anchor="start" font-weight="normal" textLength="49.8" lengthAdjust="spacingAndGlyphs" >29 Jun 2018</text><text x="189.4" y="763" font-size="10" fill="#000" text-anchor="start" font-weight="normal" textLength="46.2" lengthAdjust="spacingAndGlyphs" >12 Jul 2018</text><text x="253.4" y="763" font-size="10" fill="#000" text-anchor="start" font-weight="normal" textLength="46.2" lengthAdjust="spacingAndGlyphs" >24 Jul 2018</text><text x="317.4" y="763" font-size="10" fill="#000" text-anchor="start" font-weight="normal" textLength="46.4" lengthAdjust="spacingAndGlyphs" >3 Aug 2018</text><text x="381.4" y="763" font-size="10" fill="#000" text-anchor="start" font-weight="normal" textLength="52.4" lengthAdjust="spacingAndGlyphs" >15 Aug 2018</text><text x="445.4" y="763" font-size="10" fill="#000" text-anchor="start" font-weight="normal" textLength="52.4" lengthAdjust="spacingAndGlyphs" >27 Aug 2018</text><text x="509.4" y="763" font-size="10" fill="#000" text-anchor="start" font-weight="normal" textLength="45.6" lengthAdjust="spacingAndGlyphs" >6 Sep 2018</text><text x="573.4" y="763" font-size="10" fill="#000" text-anchor="start" font-weight="normal" textLength="51.1" lengthAdjust="spacingAndGlyphs" >18 Sep 2018</text><text x="637.4" y="763" font-size="10" fill="#000" text-anchor="start" font-weight="normal" textLength="44.7" lengthAdjust="spacingAndGlyphs" >2 Oct 2018</text><text x="701.4" y="763" font-size="10" fill="#000" text-anchor="start" font-weight="normal" textLength="49.5" lengthAdjust="spacingAndGlyphs" >12 Oct 2018</text><text x="765.4" y="763" font-size="10" fill="#000" text-anchor="start" font-weight="normal" textLength="50" lengthAdjust="spacingAndGlyphs" >25 Oct 2018</text><text x="829.4" y="763" font-size="10" fill="#000" text-anchor="start" font-weight="normal" textLength="48.7" lengthAdjust="spacingAndGlyphs" >6 Nov 2018</text><text x="893.4" y="763" font-size="10" fill="#000" text-anchor="start" font-weight="normal" textLength="53.6" lengthAdjust="spacingAndGlyphs" >16 Nov 2018</text><text x="957.4" y="763" font-size="10" fill="#000" text-anchor="start" font-weight="normal" textLength="53.6" lengthAdjust="spacingAndGlyphs" >28 Nov 2018</text><text x="1021.4" y="763" font-size="10" fill="#000" text-anchor="start" font-weight="normal" textLength="51.8" lengthAdjust="spacingAndGlyphs" >10 Dec 2018</text><text x="1085.4" y="763" font-size="10" fill="#000" text-anchor="start" font-weight="normal" textLength="51.3" lengthAdjust="spacingAndGlyphs" >20 Dec 2018</text><text x="1149.4" y="763" font-size="10" fill="#000" text-anchor="start" font-weight="normal" textLength="44.5" lengthAdjust="spacingAndGlyphs" >4 Jan 2019</text><text x="1213.4" y="763" font-size="10" fill="#000" text-anchor="start" font-weight="normal" textLength="49.1" lengthAdjust="spacingAndGlyphs" >16 Jan 2019</text><text x="1277.4" y="763" font-size="10" fill="#000" text-anchor="start" font-weight="normal" textLength="49.5" lengthAdjust="spacingAndGlyphs" >28 Jan 2019</text><text x="1341.4" y="763" font-size="10" fill="#000" text-anchor="start" font-weight="normal" textLength="50.9" lengthAdjust="spacingAndGlyphs" >12 Feb 2019</text><text x="1405.4" y="763" font-size="10" fill="#000" text-anchor="start" font-weight="normal" textLength="50.9" lengthAdjust="spacingAndGlyphs" >22 Feb 2019</text></g><g shape-rendering="crispEdges"><rect x="1420" y="26" width="9" height="1" fill="#c0c0c0" /><rect x="1421" y="27" width="7" height="1" fill="#c0c0c0" /><rect x="1422" y="28" width="5" height="1" fill="#c0c0c0" /><rect x="1423" y="29" width="3" height="1" fill="#c0c0c0" /><rect x="1424" y="30" width="1" height="1" fill="#c0c0c0" /></g><defs>
<linearGradient id="gr1" x1="0" y1="0" x2="0" y2="1"><stop offset="0" stop-color="#fa5252"/><stop offset="1" stop-color="#df3434"/></linearGradient>
<linearGradient id="gr2" x1="0" y1="0" x2="0" y2="1"><stop offset="0" stop-color="#de3030"/><stop offset="0.6" stop-color="#c81818"/><stop offset="1" stop-color="#b20606"/></linearGradient>
<linearGradient id="gb" x1="0" y1="0" x2="0" y2="1"><stop offset="0" stop-color="#f4f4f4"/><stop offset="1" stop-color="#dcdcdc"/></linearGradient>
</defs><g shape-rendering="crispEdges"><rect x="0" y="44" width="222" height="67" fill="#fff" /><rect x="1" y="45" width="52" height="24" fill="#c00a0a" /><rect x="1" y="69" width="109" height="40" fill="#c00a0a" /><rect x="2" y="46" width="50" height="24" fill="url(#gr1)" /><rect x="2" y="70" width="107" height="38" fill="url(#gr2)" /><rect x="168" y="45" width="52" height="24" fill="#c00a0a" /><rect x="112" y="69" width="108" height="40" fill="#c00a0a" /><rect x="169" y="46" width="50" height="24" fill="url(#gr1)" /><rect x="113" y="70" width="106" height="38" fill="url(#gr2)" /><rect x="5" y="68" width="44" height="1" fill="#980808" /><rect x="5" y="69" width="44" height="1" fill="#f07878" /><rect x="172" y="68" width="44" height="1" fill="#980808" /><rect x="172" y="69" width="44" height="1" fill="#f07878" /><rect x="55.5" y="45.5" width="110" height="21" rx="2" fill="#fff" stroke="#a8a8a8"/><rect x="56" y="46" width="21" height="20" fill="url(#gb)" /><rect x="144" y="46" width="21" height="20" fill="url(#gb)" /><rect x="77" y="46" width="1" height="20" fill="#b4b4b4" /><rect x="143" y="46" width="1" height="20" fill="#b4b4b4" /></g><path d="M63 54 L68.4 54 L65.7 57.2 Z" fill="#000"/><path d="M151.8 57.2 L157.2 57.2 L154.5 54 Z" fill="#000"/><g font-family="Liberation Sans, sans-serif"><text x="140.5" y="60" font-size="12" fill="#111" text-anchor="end" font-weight="normal" >0.10</text><text x="13.5" y="61" font-size="12" fill="#fff" text-anchor="start" font-weight="normal" textLength="25.5" lengthAdjust="spacingAndGlyphs" >SELL</text><text x="181.5" y="61" font-size="12" fill="#fff" text-anchor="start" font-weight="normal" textLength="23" lengthAdjust="spacingAndGlyphs" >BUY</text><text x="17" y="99.5" font-size="12" fill="#fff" text-anchor="start" font-weight="bold" textLength="35" lengthAdjust="spacingAndGlyphs" >28884</text><text x="128" y="99.5" font-size="12" fill="#fff" text-anchor="start" font-weight="bold" textLength="33.5" lengthAdjust="spacingAndGlyphs" >28897</text><text x="54.8" y="100" font-size="34" fill="#fff" text-anchor="start" font-weight="normal" >.</text><text x="61.3" y="100" font-size="34" fill="#fff" text-anchor="start" font-weight="normal" >0</text><text x="165.8" y="100" font-size="34" fill="#fff" text-anchor="start" font-weight="normal" >.</text><text x="172.4" y="100" font-size="34" fill="#fff" text-anchor="start" font-weight="normal" >0</text></g>
<g shape-rendering="crispEdges"><rect x="0" y="0" width="1628" height="20" fill="#f0f0f0" /><rect x="0" y="20" width="1628" height="1" fill="#ececec" /><rect x="0" y="21" width="1628" height="1" fill="#a0a0a0" /><rect x="0" y="22" width="1628" height="1" fill="#696969" /><rect x="0" y="23" width="1628" height="2" fill="#fff" /><defs><pattern id="chk" width="2" height="2" patternUnits="userSpaceOnUse"><rect width="2" height="2" fill="#f0f0f0"/><rect x="0" y="0" width="1" height="1" fill="#fff"/><rect x="1" y="1" width="1" height="1" fill="#fff"/></pattern></defs><rect x="220" y="0" width="24" height="19" fill="url(#chk)" /><rect x="244" y="0" width="1" height="20" fill="#fff" /><rect x="219" y="19" width="26" height="1" fill="#fff" /><rect x="372" y="0" width="25" height="19" fill="url(#chk)" /><rect x="397" y="0" width="1" height="20" fill="#fff" /><rect x="371" y="19" width="27" height="1" fill="#fff" /><rect x="400" y="0" width="25" height="19" fill="url(#chk)" /><rect x="425" y="0" width="1" height="20" fill="#fff" /><rect x="399" y="19" width="27" height="1" fill="#fff" /><rect x="560" y="0" width="24" height="19" fill="url(#chk)" /><rect x="584" y="0" width="1" height="20" fill="#fff" /><rect x="559" y="19" width="26" height="1" fill="#fff" /><rect x="1034" y="0" width="25" height="19" fill="url(#chk)" /><rect x="1059" y="0" width="1" height="20" fill="#fff" /><rect x="1033" y="19" width="27" height="1" fill="#fff" /><rect x="219" y="0" width="1" height="19" fill="#a0a0a0" /><rect x="276" y="0" width="1" height="19" fill="#a0a0a0" /><rect x="366" y="0" width="1" height="19" fill="#a0a0a0" /><rect x="371" y="0" width="1" height="19" fill="#a0a0a0" /><rect x="399" y="0" width="1" height="19" fill="#a0a0a0" /><rect x="428" y="0" width="1" height="19" fill="#a0a0a0" /><rect x="559" y="0" width="1" height="19" fill="#a0a0a0" /><rect x="616" y="0" width="1" height="19" fill="#a0a0a0" /><rect x="1033" y="0" width="1" height="19" fill="#a0a0a0" /><rect x="1116" y="0" width="1" height="19" fill="#a0a0a0" /><rect x="181" y="0" width="1" height="20" fill="#a0a0a0" /><rect x="182" y="0" width="1" height="20" fill="#fbfbfb" /><rect x="549" y="0" width="1" height="20" fill="#a0a0a0" /><rect x="550" y="0" width="1" height="20" fill="#fbfbfb" /><rect x="855" y="0" width="1" height="20" fill="#a0a0a0" /><rect x="856" y="0" width="1" height="20" fill="#fbfbfb" /><rect x="185" y="1" width="3" height="1" fill="#b8b8b8" /><rect x="185" y="3" width="3" height="1" fill="#b8b8b8" /><rect x="185" y="5" width="3" height="1" fill="#b8b8b8" /><rect x="185" y="7" width="3" height="1" fill="#b8b8b8" /><rect x="185" y="9" width="3" height="1" fill="#b8b8b8" /><rect x="185" y="11" width="3" height="1" fill="#b8b8b8" /><rect x="185" y="13" width="3" height="1" fill="#b8b8b8" /><rect x="185" y="15" width="3" height="1" fill="#b8b8b8" /><rect x="185" y="17" width="3" height="1" fill="#b8b8b8" /><rect x="553" y="1" width="3" height="1" fill="#b8b8b8" /><rect x="553" y="3" width="3" height="1" fill="#b8b8b8" /><rect x="553" y="5" width="3" height="1" fill="#b8b8b8" /><rect x="553" y="7" width="3" height="1" fill="#b8b8b8" /><rect x="553" y="9" width="3" height="1" fill="#b8b8b8" /><rect x="553" y="11" width="3" height="1" fill="#b8b8b8" /><rect x="553" y="13" width="3" height="1" fill="#b8b8b8" /><rect x="553" y="15" width="3" height="1" fill="#b8b8b8" /><rect x="553" y="17" width="3" height="1" fill="#b8b8b8" /><rect x="859" y="1" width="3" height="1" fill="#b8b8b8" /><rect x="859" y="3" width="3" height="1" fill="#b8b8b8" /><rect x="859" y="5" width="3" height="1" fill="#b8b8b8" /><rect x="859" y="7" width="3" height="1" fill="#b8b8b8" /><rect x="859" y="9" width="3" height="1" fill="#b8b8b8" /><rect x="859" y="11" width="3" height="1" fill="#b8b8b8" /><rect x="859" y="13" width="3" height="1" fill="#b8b8b8" /><rect x="859" y="15" width="3" height="1" fill="#b8b8b8" /><rect x="859" y="17" width="3" height="1" fill="#b8b8b8" /></g><g shape-rendering="crispEdges" fill="#505050"><rect x="199" y="3" width="1" height="14" fill="#505050" /><rect x="198" y="4" width="3" height="1" fill="#505050" /><rect x="197" y="14" width="14" height="1" fill="#505050" /><rect x="209" y="13" width="1" height="3" fill="#505050" /></g><g shape-rendering="crispEdges"><rect x="205" y="4" width="1" height="9" fill="#108818" /><rect x="206" y="5" width="2" height="1" fill="#108818" /><rect x="203" y="11" width="2" height="1" fill="#108818" /><rect x="206" y="4" width="1" height="9" fill="#58b860" opacity="0.5"/></g><g shape-rendering="crispEdges" fill="#505050"><rect x="227" y="3" width="1" height="14" fill="#505050" /><rect x="226" y="4" width="3" height="1" fill="#505050" /><rect x="225" y="14" width="14" height="1" fill="#505050" /><rect x="237" y="13" width="1" height="3" fill="#505050" /></g><g shape-rendering="crispEdges"><rect x="233" y="1" width="1" height="12" fill="#108818" /><rect x="231" y="3" width="5" height="8" fill="#10a020" /><rect x="232" y="4" width="3" height="6" fill="#50e870" /></g><g shape-rendering="crispEdges" fill="#505050"><rect x="255" y="3" width="1" height="14" fill="#505050" /><rect x="254" y="4" width="3" height="1" fill="#505050" /><rect x="253" y="14" width="14" height="1" fill="#505050" /><rect x="265" y="13" width="1" height="3" fill="#505050" /></g><path d="M254 11.8 C257 10 258.5 6.2 260.6 6.3 C262.5 6.4 263.5 9.2 266 10" stroke="#2a9a32" stroke-width="1.3" fill="none"/><line x1="294.6" y1="10.6" x2="300" y2="15.8" stroke="#a87408" stroke-width="4" stroke-linecap="butt"/><line x1="295" y1="11" x2="299.6" y2="15.4" stroke="#ecd030" stroke-width="2.2"/><circle cx="291" cy="7" r="5.6" fill="#e2f5ff" stroke="#2a78c8" stroke-width="1.3"/><rect x="287.6" y="6" width="6.8" height="2" fill="#3a88b4"/><rect x="290" y="3.6" width="2" height="6.8" fill="#3a88b4"/><line x1="322.6" y1="10.6" x2="328" y2="15.8" stroke="#a87408" stroke-width="4" stroke-linecap="butt"/><line x1="323" y1="11" x2="327.6" y2="15.4" stroke="#ecd030" stroke-width="2.2"/><circle cx="319" cy="7" r="5.6" fill="#e2f5ff" stroke="#2a78c8" stroke-width="1.3"/><rect x="315.6" y="6" width="6.8" height="2" fill="#3a88b4"/><g shape-rendering="crispEdges"><rect x="341" y="1" width="8" height="8" fill="#2e9e12"/><rect x="349" y="1" width="8" height="8" fill="#1c4cc8"/><rect x="341" y="9" width="8" height="8" fill="#1c4cc8"/><rect x="349" y="9" width="8" height="8" fill="#2e9e12"/><rect x="342" y="4" width="6" height="4" fill="#fff"/><rect x="350" y="4" width="6" height="4" fill="#fff"/><rect x="342" y="12" width="6" height="4" fill="#fff"/><rect x="350" y="12" width="6" height="4" fill="#fff"/><rect x="343" y="5" width="4" height="1" fill="#a0d890"/><rect x="351" y="5" width="4" height="1" fill="#98a8e8"/><rect x="343" y="13" width="4" height="1" fill="#98a8e8"/><rect x="351" y="13" width="4" height="1" fill="#a0d890"/><rect x="342" y="2" width="1" height="1" fill="#c8e8c0"/><rect x="350" y="2" width="1" height="1" fill="#c0c8f0"/><rect x="342" y="10" width="1" height="1" fill="#c0c8f0"/><rect x="350" y="10" width="1" height="1" fill="#c8e8c0"/></g><g shape-rendering="crispEdges" fill="#505050"><rect x="379" y="3" width="1" height="14" fill="#505050" /><rect x="378" y="4" width="3" height="1" fill="#505050" /><rect x="377" y="14" width="14" height="1" fill="#505050" /><rect x="389" y="13" width="1" height="3" fill="#505050" /></g><path d="M384.6 5.3 L387.7 8.5 L384.6 11.7 Z" fill="#60e868" stroke="#10a018" stroke-width="1"/><g shape-rendering="crispEdges" fill="#505050"><rect x="407" y="3" width="1" height="14" fill="#505050" /><rect x="406" y="4" width="3" height="1" fill="#505050" /><rect x="405" y="14" width="14" height="1" fill="#505050" /><rect x="417" y="13" width="1" height="3" fill="#505050" /></g><line x1="413.5" y1="3" x2="413.5" y2="12.6" stroke="#1c6ca8" stroke-width="1.2"/><path d="M415 8.5 L419 8.5 M417 6.5 L415 8.5 L417 10.5" stroke="#e05010" stroke-width="1.2" fill="none"/><path d="M438.5 1.5 L446 1.5 L449.5 5 L449.5 14.5 L438.5 14.5 Z" fill="#f4f4f4" stroke="#888" stroke-width="1"/><path d="M441 5 v6 M441 5 h2 M441 11 h2" stroke="#999" fill="none"/><path d="M446.5 7 h4 v3.5 h3.5 v4 h-3.5 v3.5 h-4 v-3.5 h-3.5 v-4 h3.5 Z" fill="#30c820" stroke="#108810" stroke-width="1"/><path d="M459.8 8 L465.2 8 L462.5 11 Z" fill="#000"/><path d="M498.8 8 L504.2 8 L501.5 11 Z" fill="#000"/><path d="M537.8 8 L543.2 8 L540.5 11 Z" fill="#000"/><path d="M843.8 8 L849.2 8 L846.5 11 Z" fill="#000"/><defs><linearGradient id="clk" x1="0" y1="0" x2="0.6" y2="1"><stop offset="0" stop-color="#4a98f4"/><stop offset="1" stop-color="#0c48b8"/></linearGradient></defs><circle cx="484" cy="9" r="6.9" fill="#fafcff" stroke="url(#clk)" stroke-width="2.3"/><circle cx="484" cy="9" r="4.6" fill="none" stroke="#c8d0dc" stroke-width="0.9" stroke-dasharray="0.8 1.6"/><path d="M484 5.2 V9.3 H487" stroke="#333" stroke-width="1.1" fill="none"/><g shape-rendering="crispEdges"><rect x="515" y="2" width="16" height="14" fill="#3c6cc4"/><rect x="516" y="3" width="14" height="2" fill="#8cb8f0"/><rect x="516" y="5" width="14" height="5" fill="#fff"/><rect x="516" y="11" width="14" height="4" fill="#fff"/></g><path d="M517 8.6 L519.5 8.2 L521.5 6.8 L524 7.6 L526.5 7 L529 6.2" stroke="#a82810" stroke-width="1.2" fill="none"/><path d="M517.5 13.6 L519.5 12.6 L521.5 13.4 L524 11.6 L526 12.2 L528.5 13.8" stroke="#18902a" stroke-width="1.1" fill="none"/><path d="M567 2 L567 13.2 L569.6 10.8 L572 15.9 L574 14.9 L571.7 10 L575.3 9.6 Z" fill="#484848"/><g shape-rendering="crispEdges"><rect x="599" y="2" width="1" height="6" fill="#484848" /><rect x="599" y="11" width="1" height="6" fill="#484848" /><rect x="592" y="9" width="6" height="1" fill="#484848" /><rect x="601" y="9" width="6" height="1" fill="#484848" /><rect x="599" y="9" width="1" height="1" fill="#909070" /></g><g stroke="#444" stroke-width="1" shape-rendering="crispEdges"><line x1="633.5" y1="3" x2="633.5" y2="16"/><line x1="656" y1="9.5" x2="668" y2="9.5"/></g><line x1="684" y1="16" x2="696" y2="4" stroke="#444" stroke-width="1.1"/><g stroke="#444" stroke-width="1"><line x1="710" y1="10" x2="722" y2="2"/><line x1="711" y1="14" x2="724" y2="5.5"/><line x1="712" y1="17" x2="724" y2="9"/><line x1="713" y1="8" x2="713" y2="15"/><line x1="717" y1="5" x2="717" y2="13"/><line x1="721" y1="3" x2="721" y2="10"/></g><text x="720.5" y="17.5" font-size="6.5" font-weight="bold" fill="#333" font-family="Liberation Sans, sans-serif">E</text><g stroke="#444" stroke-width="1" stroke-dasharray="1 1" shape-rendering="crispEdges"><line x1="739" y1="2.5" x2="752" y2="2.5"/><line x1="739" y1="5.5" x2="752" y2="5.5"/><line x1="739" y1="9.5" x2="752" y2="9.5"/><line x1="739" y1="13.5" x2="748" y2="13.5"/></g><text x="748.5" y="17.5" font-size="6.5" font-weight="bold" fill="#333" font-family="Liberation Sans, sans-serif">F</text><text x="769.5" y="13.5" font-size="12" font-weight="bold" fill="#555" font-family="Liberation Sans, sans-serif">A</text><rect x="796.5" y="3.5" width="12" height="12" fill="none" stroke="#555" stroke-dasharray="1 1" shape-rendering="crispEdges"/><text x="798.8" y="13.5" font-size="11" font-weight="bold" fill="#555" font-family="Liberation Sans, sans-serif">T</text><path d="M826.5 2.8 L830.2 6 L826.5 8.6 L822.9 6 Z M833.5 10.6 L837.2 13.6 L833.5 16.4 L829.9 13.6 Z" fill="#3a3a3a"/><path d="M825.6 10.4 L827.8 12.6 L832.6 7" stroke="#3a3a3a" stroke-width="1.3" fill="none"/><g font-family="Liberation Sans, sans-serif" font-size="10" fill="#444"><text x="870.8" y="13" textLength="12.4" lengthAdjust="spacingAndGlyphs">M1</text><text x="898.6" y="13" textLength="12.3" lengthAdjust="spacingAndGlyphs">M5</text><text x="924.7" y="13" textLength="17.4" lengthAdjust="spacingAndGlyphs">M15</text><text x="952.4" y="13" textLength="17.9" lengthAdjust="spacingAndGlyphs">M30</text><text x="983.5" y="13" textLength="11.7" lengthAdjust="spacingAndGlyphs">H1</text><text x="1010.6" y="13" textLength="12.7" lengthAdjust="spacingAndGlyphs">H4</text><text x="1039.6" y="13" textLength="11.9" lengthAdjust="spacingAndGlyphs">D1</text><text x="1066.8" y="13" textLength="14.6" lengthAdjust="spacingAndGlyphs">W1</text><text x="1093.8" y="13" textLength="14.5" lengthAdjust="spacingAndGlyphs">MN</text></g><defs><linearGradient id="gold" x1="0.2" y1="0" x2="0.8" y2="1"><stop offset="0" stop-color="#fff68a"/><stop offset="0.5" stop-color="#f2cc2c"/><stop offset="1" stop-color="#d8a018"/></linearGradient><linearGradient id="cone" x1="0" y1="0" x2="1" y2="1"><stop offset="0" stop-color="#fff080"/><stop offset="1" stop-color="#e0a010"/></linearGradient><linearGradient id="cloud" x1="0" y1="0" x2="0" y2="1"><stop offset="0" stop-color="#ffffff"/><stop offset="1" stop-color="#c8d0e0"/></linearGradient><linearGradient id="srv" x1="0" y1="0" x2="1" y2="0"><stop offset="0" stop-color="#1878e8"/><stop offset="0.4" stop-color="#2a98f8"/><stop offset="1" stop-color="#6ab8ff"/></linearGradient></defs><path d="M22 10.8 L22.2 12 L30.2 17 L38 11.4 L37.6 9 L30.2 14.4 Z" fill="#a86c0a"/><path d="M27.5 2.1 L37.5 8.9 L30.2 14.5 L22.1 10.5 Q26.6 7.6 27.5 2.1 Z" fill="url(#gold)" stroke="#b07810" stroke-width="0.9"/><path d="M23.4 11.9 L30.2 15.8 L37.2 10.6" stroke="#f4e0a0" stroke-width="0.7" fill="none"/><path d="M52.8 2.6 L57 1.2 L63.4 2 L63.4 11 L52.8 11 Z" fill="url(#srv)" stroke="#1464c8" stroke-width="0.7"/><path d="M55.6 3.6 L62.6 3 L62.6 10.5 L55.6 10.5 Z" fill="#7cc0ff"/><path d="M57 5.4 L61.8 5 M57 7.2 L61.8 6.9" stroke="#fff" stroke-width="0.9"/><path d="M52.4 16.6 Q49.4 15.8 50.4 13.4 Q51.2 11.6 53.6 12 Q54.4 9.6 57.2 9.8 Q59 9.6 60 11 Q62.6 10.2 63.6 12.4 Q66.6 12.6 66 15 Q65.6 16.6 63.6 16.6 Z" fill="url(#cloud)" stroke="#5878b4" stroke-width="0.9"/><path d="M86 1.4 A7.5 7.5 0 0 0 86 16.4" fill="none" stroke="#a8c4f0" stroke-width="1.2"/><path d="M86 1.4 A7.5 7.5 0 0 1 86 16.4" fill="none" stroke="#98c8a0" stroke-width="1.3"/><path d="M86 4.4 A4.5 4.5 0 0 0 86 13.4" fill="none" stroke="#5080d8" stroke-width="1.2"/><path d="M86 4.4 A4.5 4.5 0 0 1 86 13.4" fill="none" stroke="#70b080" stroke-width="1.2"/><path d="M86 9 L93.5 9 A7.5 7.5 0 0 1 86 16.5 Z" fill="#80c088" opacity="0.75"/><circle cx="86" cy="8.8" r="1.7" fill="#2858d0"/><line x1="86.4" y1="9.5" x2="86.4" y2="16.6" stroke="#18a018" stroke-width="1.5"/><path d="M106.2 8.6 L121 8.6 L114.6 17.2 L112.6 17.2 Z" fill="url(#cone)" stroke="#c89818" stroke-width="0.6"/><ellipse cx="113.3" cy="6.8" rx="8" ry="2.7" fill="#4a94dc" stroke="#3070b8" stroke-width="0.7"/><ellipse cx="113.5" cy="4.2" rx="4.6" ry="3.1" fill="#6cb4ea"/><ellipse cx="112.5" cy="3.4" rx="2.4" ry="1.3" fill="#a8d8f8"/><circle cx="117.7" cy="12.9" r="4.1" fill="#e42414" stroke="#b01408" stroke-width="0.8"/><rect x="116.1" y="11.3" width="3.2" height="3.2" fill="#fff"/><text x="-2.1" y="11.9" font-size="12.2" fill="#000" text-anchor="start" style="font-family:'Liberation Sans','Noto Sans CJK SC',sans-serif">单</text><text x="125.9" y="11.9" font-size="12.2" fill="#000" text-anchor="start" style="font-family:'Liberation Sans','Noto Sans CJK SC',sans-serif" textLength="47.4" lengthAdjust="spacingAndGlyphs">自动交易</text><line x1="1579" y1="13.5" x2="1584" y2="9" stroke="#2860d0" stroke-width="2.2" stroke-linecap="round"/><circle cx="1586.8" cy="6.3" r="3.8" fill="#f4f4f4" stroke="#2860d0" stroke-width="1.3"/><ellipse cx="1619" cy="6" rx="6.3" ry="4.8" fill="#f6f6f8" stroke="#a0a0a0" stroke-width="1"/><path d="M1621 10 L1622.5 12.5 L1623.5 10 Z" fill="#888"/><ellipse cx="1610" cy="10" rx="5" ry="4" fill="#f6f6f8" stroke="#a0a0a0" stroke-width="1"/><path d="M1607 13.5 L1607.5 15.5 L1609.5 13.8 Z" fill="#888"/>
</svg>
</body></html>
